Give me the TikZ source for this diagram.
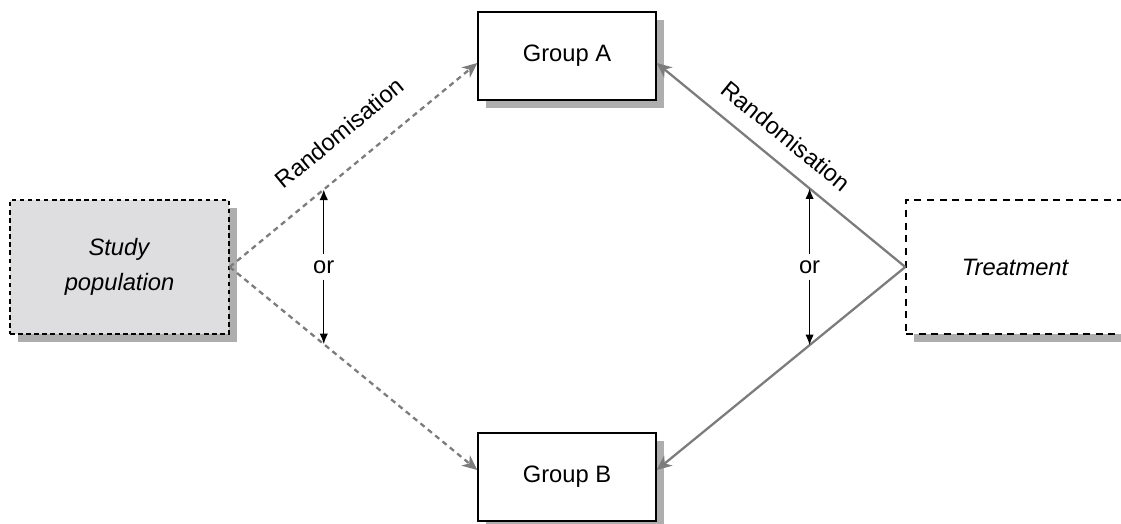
\documentclass[tikz,border=0pt]{standalone}
\usepackage{fontspec}
\setmainfont{Liberation Sans}
\usepackage{tikz}
\usetikzlibrary{arrows.meta}
\usetikzlibrary{shadows}
\definecolor{linegray}{HTML}{7C7C7C}
\definecolor{shadowgray}{HTML}{AEAEAE}
\definecolor{popfill}{HTML}{DEDEE0}
\begin{document}
\begin{tikzpicture}[every node/.style={font=\fontsize{13.5}{20}\selectfont},
  box/.style={draw,line width=0.8pt,minimum width=3.56cm,minimum height=1.76cm,inner sep=0pt,
    drop shadow={shadow xshift=0.16cm,shadow yshift=-0.16cm,fill=shadowgray,opacity=1}},
  randline/.style={draw=linegray,line width=1.3pt,-{Stealth[length=8.5pt,width=7.5pt,inset=2.6pt]}},
  orarrow/.style={line width=0.8pt,-{Latex[length=6pt,width=4.8pt]}}]
  \useasboundingbox (0,0) rectangle (22.42,10.48);
  \node[box,fill=popfill,dash pattern=on 2.6pt off 2pt,minimum width=4.38cm,minimum height=2.68cm,align=center]
    (study) at (2.39,5.14) {\textit{Study}\\\textit{population}};
  \node[box,fill=white,dash pattern=on 4pt off 3.2pt,minimum width=4.38cm,minimum height=2.68cm]
    (treat) at (20.31,5.14) {\textit{Treatment}};
  \node[box,fill=white] (groupA) at (11.34,9.36) {Group A};
  \node[box,fill=white] (groupB) at (11.34,0.94) {Group B};
  % randomisation arrows
  \draw[randline,dash pattern=on 3pt off 2.4pt] (study.east) -- coordinate[pos=0.38] (upL)
    node[pos=0.53,sloped,above=13.5pt,inner sep=0pt]{Randomisation} ([yshift=-0.14cm]groupA.west);
  \draw[randline,dash pattern=on 3pt off 2.4pt] (study.east) -- coordinate[pos=0.38] (downL) ([yshift=0.14cm]groupB.west);
  \draw[randline] (treat.west) -- coordinate[pos=0.385] (upR)
    node[pos=0.545,sloped,above=9pt,inner sep=0pt]{Randomisation} ([yshift=-0.14cm]groupA.east);
  \draw[randline] (treat.west) -- coordinate[pos=0.385] (downR) ([yshift=0.14cm]groupB.east);
  % or
  \node (orL) at (upL |- study) {or};
  \node (orR) at (upR |- treat) {or};
  \draw[orarrow] (orL) -- (upL);
  \draw[orarrow] (orL) -- (downL);
  \draw[orarrow] (orR) -- (upR);
  \draw[orarrow] (orR) -- (downR);
\end{tikzpicture}
\end{document}
